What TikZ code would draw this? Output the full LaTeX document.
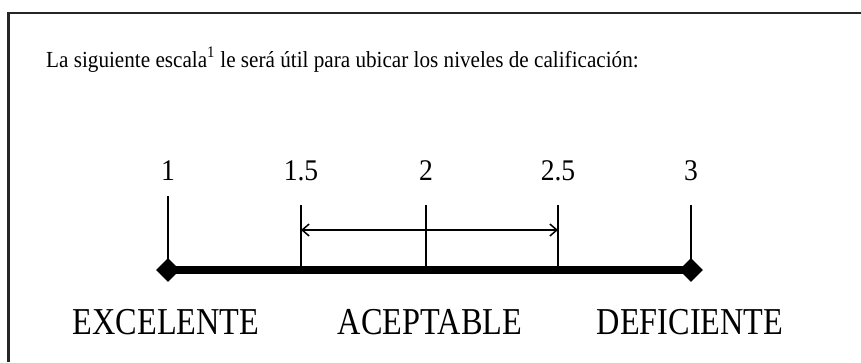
\documentclass[tikz,border=0pt]{standalone}
\usepackage{fontspec}
\setmainfont[FakeStretch=0.92]{Liberation Serif}
\newfontfamily\narrowlab[FakeStretch=0.85]{Liberation Serif}
\usetikzlibrary{arrows.meta,shapes.geometric}

\begin{document}
\begin{tikzpicture}[x=1pt,y=1pt]
\tikzstyle{every node}+=[inner sep=0pt]
\tikzstyle{num}=[font=\fontsize{30}{36}\selectfont, anchor=base]
\tikzstyle{lab}=[font=\narrowlab\fontsize{38}{44}\selectfont, anchor=base]
\tikzstyle{tickline}=[black, line width=2]
\tikzstyle{endmark}=[diamond, fill=black, minimum size=24]
\useasboundingbox (0,0) rectangle (861,-362);
\draw [black!85, line width=2.5] (8.5,-362) -- (8.5,-13) -- (861,-13);
\node [anchor=base west, font=\fontsize{23}{27}\selectfont] (intro) at (46,-67)
  {La siguiente escala\textsuperscript{1} le será útil para ubicar los niveles de calificación:};
\coordinate (p1) at (168,-270);
\coordinate (p15) at (301,-270);
\coordinate (p2) at (426,-270);
\coordinate (p25) at (558,-270);
\coordinate (p3) at (691,-270);
\coordinate (t1) at (168,-196);
\coordinate (t15) at (301,-205);
\coordinate (t2) at (426,-205);
\coordinate (t25) at (558,-205);
\coordinate (t3) at (691,-205);
\coordinate (a1) at (301,-230);
\coordinate (a2) at (558,-230);
\node [num] (n1) at (168,-180) {1};
\node [num] (n15) at (301,-180) {1.5};
\node [num] (n2) at (426,-180) {2};
\node [num] (n25) at (558,-180) {2.5};
\node [num] (n3) at (691,-180) {3};
\draw [tickline] (t1) -- (p1);
\draw [tickline] (t15) -- (p15);
\draw [tickline] (t2) -- (p2);
\draw [tickline] (t25) -- (p25);
\draw [tickline] (t3) -- (p3);
\draw [black, line width=1.5, {Straight Barb[length=7,width=12]}-{Straight Barb[length=7,width=12]}] (a1) -- (a2);
\draw [black, line width=8] (p1) -- (p3);
\node [endmark] (d1) at (p1) {};
\node [endmark] (d3) at (p3) {};
\node [lab] (exc) at (166,-334) {EXCELENTE};
\node [lab] (acc) at (430,-334) {ACEPTABLE};
\node [lab] (def) at (690,-334) {DEFICIENTE};
\end{tikzpicture}
\end{document}
